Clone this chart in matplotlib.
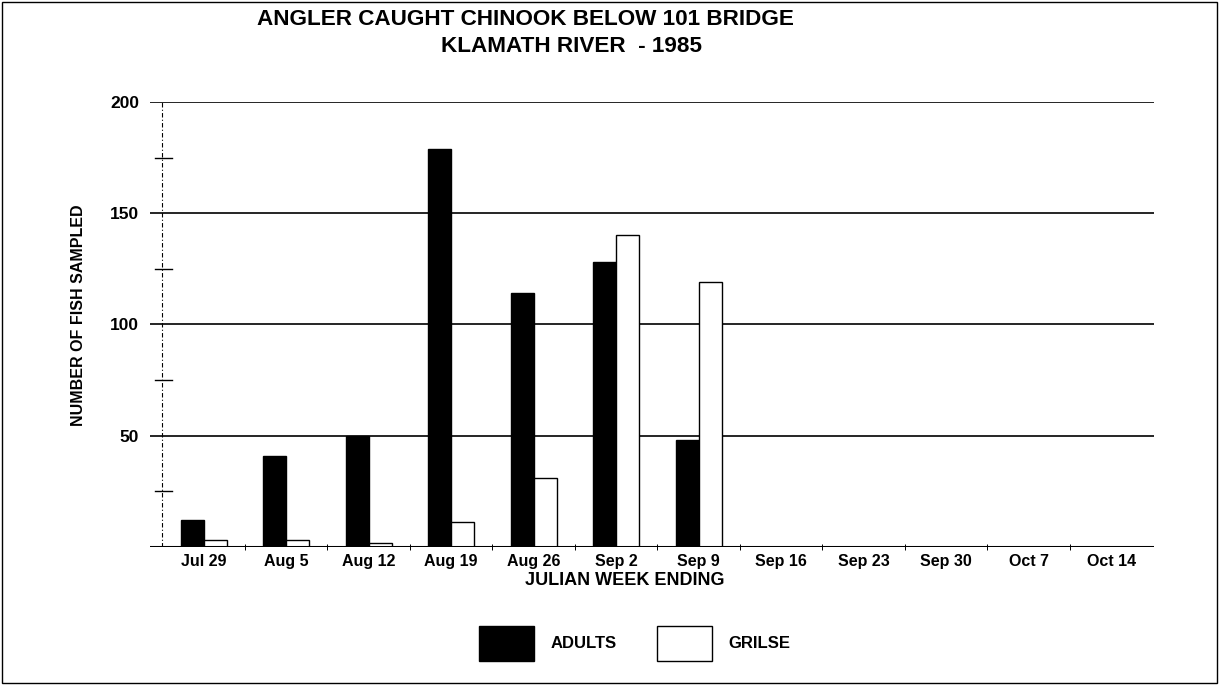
"""Angler caught chinook below 101 bridge, Klamath River 1985 — grouped bar chart."""

import matplotlib

matplotlib.use("Agg")
import matplotlib.pyplot as plt
import numpy as np
from matplotlib.patches import Rectangle

weeks = ["Jul 29", "Aug 5", "Aug 12", "Aug 19", "Aug 26", "Sep 2", "Sep 9",
         "Sep 16", "Sep 23", "Sep 30", "Oct 7", "Oct 14"]
adults = [12, 41, 50, 179, 114, 128, 48, 0, 0, 0, 0, 0]
grilse = [3, 3, 2, 11, 31, 140, 119, 0, 0, 0, 0, 0]
y_ticks = [50, 100, 150, 200]
y_minor = [25, 75, 125, 175]

plt.rcParams["font.family"] = ["Liberation Sans", "DejaVu Sans"]
plt.rcParams["font.weight"] = "bold"

fig = plt.figure(figsize=(12.21, 6.85), dpi=100)
ax = fig.add_axes([0.1229, 0.2015, 0.8223, 0.6496])

x = np.arange(len(weeks))
w = 0.28
ax.bar(x - w / 2, adults, w, color="black", edgecolor="black", lw=1,
       label="ADULTS", zorder=3)
ax.bar(x + w / 2, grilse, w, color="white", edgecolor="black", lw=1,
       label="GRILSE", zorder=3)

# horizontal grid, drawn under the bars
for yv in y_ticks:
    ax.axhline(yv, color="black", lw=1.2, zorder=1)
ax.axhline(0, color="black", lw=2.2, zorder=4)

# dashed vertical axis with "+" minor ticks
ax.axvline(-0.51, color="black", lw=0.8, ls=(0, (4, 2, 1, 2)), zorder=2)
for yv in y_minor:
    ax.axhline(yv, xmin=0.005, xmax=0.022, color="black", lw=1.0, zorder=2)

ax.set_xlim(-0.65, 11.52)
ax.set_ylim(0, 200)
for s in ax.spines.values():
    s.set_visible(False)

ax.set_yticks(y_ticks)
ax.set_yticklabels([str(v) for v in y_ticks], fontsize=12.5, fontweight="bold")
ax.tick_params(axis="y", length=0, pad=8)

ax.set_xticks(x)
ax.set_xticklabels(weeks, fontsize=11.5, fontweight="bold")
ax.set_xticks(x[:-1] + 0.5, minor=True)
ax.tick_params(axis="x", which="major", length=0, pad=5)
ax.tick_params(axis="x", which="minor", length=4, width=0.7, direction="inout")

ax.set_xlabel("JULIAN WEEK ENDING", fontsize=13, fontweight="bold")
ax.xaxis.set_label_coords(0.473, -0.057)
ax.set_ylabel("NUMBER OF FISH SAMPLED", fontsize=11.5, fontweight="bold")
ax.yaxis.set_label_coords(-0.064, 0.52)

fig.text(0.43, 0.972, "ANGLER CAUGHT CHINOOK BELOW 101 BRIDGE",
         ha="center", va="center", fontsize=16.2, fontweight="bold")
fig.text(0.468, 0.932, "KLAMATH RIVER  - 1985",
         ha="center", va="center", fontsize=16.2, fontweight="bold")

fig.legend(loc="center", bbox_to_anchor=(0.52, 0.061), ncol=2, frameon=False,
           prop={"size": 12, "weight": "bold"}, handlelength=3.3,
           handleheight=2.85, handletextpad=1.0, columnspacing=2.4)

# border around the whole page
fig.patches.append(Rectangle((0.002, 0.003), 0.995, 0.994, transform=fig.transFigure,
                             fill=False, edgecolor="black", lw=1))

fig.savefig("out.png", dpi=100)
